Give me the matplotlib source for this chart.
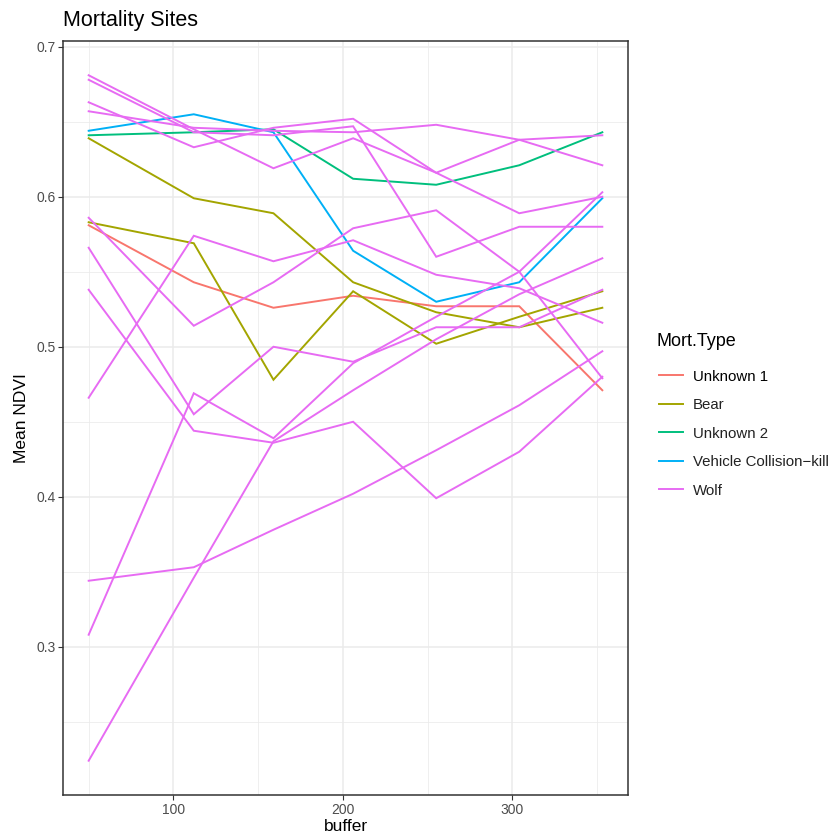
import matplotlib
matplotlib.use("Agg")
import matplotlib.pyplot as plt
from matplotlib.ticker import MultipleLocator

plt.rcParams['font.family'] = ['Liberation Sans', 'DejaVu Sans']

# buffer distances sampled around each site
buffer = [50, 112, 159, 206, 255, 304, 353]

# mean NDVI per site, grouped by mortality type
unknown_1 = [
    [0.581, 0.543, 0.526, 0.534, 0.527, 0.527, 0.471],
]
bear = [
    [0.639, 0.599, 0.589, 0.543, 0.523, 0.513, 0.526],
    [0.583, 0.569, 0.478, 0.537, 0.502, 0.520, 0.537],
]
unknown_2 = [
    [0.641, 0.643, 0.645, 0.612, 0.608, 0.621, 0.643],
]
vehicle = [
    [0.644, 0.655, 0.643, 0.564, 0.530, 0.543, 0.599],
]
wolf = [
    [0.681, 0.645, 0.619, 0.639, 0.616, 0.589, 0.600],
    [0.678, 0.643, 0.641, 0.647, 0.560, 0.580, 0.580],
    [0.663, 0.633, 0.646, 0.652, 0.616, 0.638, 0.641],
    [0.657, 0.646, 0.644, 0.643, 0.648, 0.638, 0.621],
    [0.586, 0.514, 0.543, 0.579, 0.591, 0.550, 0.479],
    [0.566, 0.455, 0.500, 0.490, 0.513, 0.513, 0.538],
    [0.538, 0.444, 0.436, 0.450, 0.399, 0.430, 0.480],
    [0.466, 0.574, 0.557, 0.571, 0.548, 0.539, 0.516],
    [0.344, 0.353, 0.378, 0.402, 0.431, 0.461, 0.497],
    [0.308, 0.469, 0.439, 0.489, 0.520, 0.550, 0.603],
    [0.224, 0.346, 0.437, 0.471, 0.505, 0.535, 0.559],
]

groups = ["Unknown 1", "Bear", "Unknown 2", "Vehicle Collision\u2212kill", "Wolf"]
series = [unknown_1, bear, unknown_2, vehicle, wolf]
colors = ["#F8766D", "#A3A500", "#00BF7D", "#00B0F6", "#E76BF3"]

fig = plt.figure(figsize=(8.35, 8.4), dpi=100)
ax = fig.add_axes([63 / 835, 1 - 795 / 840, (628 - 63) / 835, (795 - 41) / 840])

handles = []
for name, lines, col in zip(groups, series, colors):
    for vals in lines:
        h, = ax.plot(buffer, vals, color=col, lw=1.4, solid_joinstyle='miter')
    handles.append(h)

# ggplot-style expansion of 5% on both axes
lo, hi = min(buffer), max(buffer)
pad = (hi - lo) * 0.05
ax.set_xlim(lo - pad, hi + pad)
allv = [v for s in series for l in s for v in l]
vlo, vhi = min(allv), max(allv)
vpad = (vhi - vlo) * 0.05
ax.set_ylim(vlo - vpad, vhi + vpad)

ax.xaxis.set_major_locator(MultipleLocator(100))
ax.xaxis.set_minor_locator(MultipleLocator(50))
ax.yaxis.set_major_locator(MultipleLocator(0.1))
ax.yaxis.set_minor_locator(MultipleLocator(0.05))
ax.yaxis.set_major_formatter(plt.FuncFormatter(lambda v, p: f"{v:.1f}"))

ax.grid(which='major', color='#ebebeb', lw=1.1)
ax.grid(which='minor', color='#ebebeb', lw=0.55)
ax.set_axisbelow(True)
ax.tick_params(which='minor', length=0)
ax.tick_params(which='major', length=3.5, width=0.8, color='#333333',
               labelsize=10, labelcolor='#4d4d4d', pad=2)
for sp in ax.spines.values():
    sp.set_color('#333333')
    sp.set_linewidth(1.1)

ax.set_xlabel("buffer", fontsize=12.5, labelpad=2)
ax.set_ylabel("Mean NDVI", fontsize=12.5, labelpad=5)
ax.set_title("Mortality Sites", loc='left', fontsize=15.5, pad=11)

# legend: title placed on its own so the gap above the keys can be set
fig.text(656 / 835, 1 - 341 / 840, "Mort.Type", fontsize=13, va='center', ha='left')
leg = fig.legend(handles, groups, loc='upper left',
                 bbox_to_anchor=(645 / 835, 1 - 356 / 840),
                 frameon=False, fontsize=10.8,
                 handlelength=1.6, handletextpad=0.7,
                 labelspacing=0.97)
for t in leg.get_texts():
    t.set_color('#222222')
leg.get_texts()[0].set_color('black')

fig.savefig("out.png", dpi=100)
